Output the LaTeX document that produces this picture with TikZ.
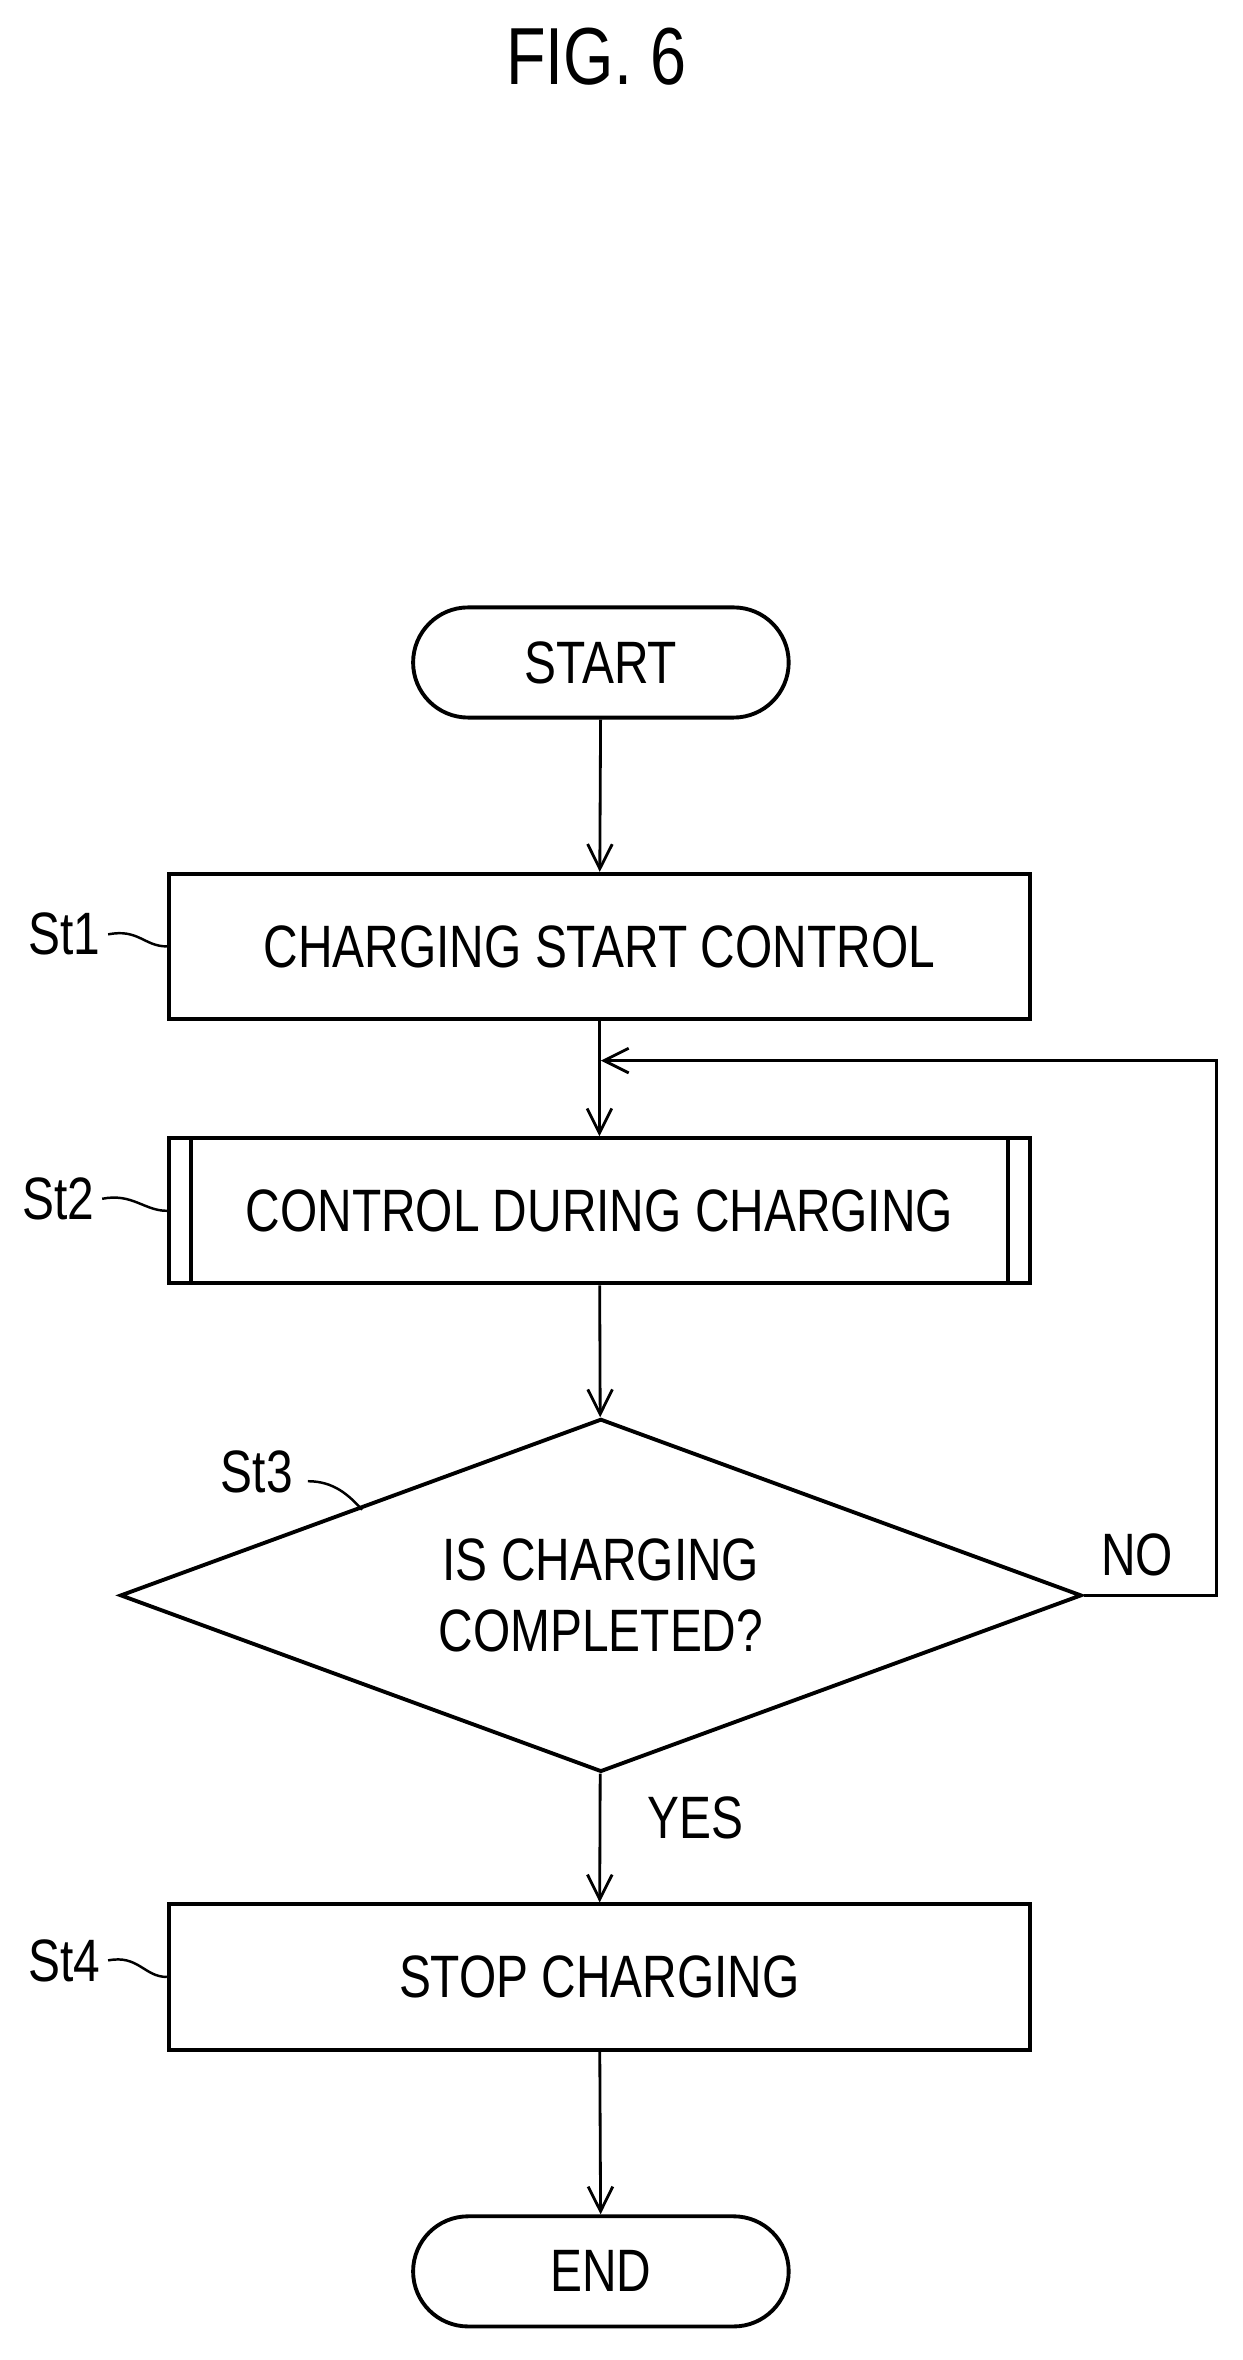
\documentclass[tikz,border=0pt]{standalone}
\usepackage{fontspec}
\setmainfont{Liberation Sans}[FakeStretch=0.8]
\usetikzlibrary{shapes.geometric,arrows.meta}
\begin{document}
\begin{tikzpicture}[x=0.03cm,y=-0.03cm,line width=2.2pt,
  every node/.style={font=\fontsize{34}{40}\selectfont},
  term/.style={draw,minimum width=7.5cm,minimum height=2.2cm},
  stepbox/.style={draw,minimum width=17.2cm,minimum height=2.9cm},
  tag/.style={anchor=east},
  flow/.style={line width=1.6pt,-{Straight Barb[length=14pt,width=14pt]}}]
\useasboundingbox (0,0) rectangle (827,1571);
\node[font=\fontsize{46}{50}\selectfont] (fig) at (397,38) {FIG. 6};
\node[term,rounded corners=1.1cm] (start) at (400,441) {START};
\node[stepbox] (s1) at (399,630) {CHARGING START CONTROL};
\node[stepbox] (s2) at (399,806) {CONTROL DURING CHARGING};
\draw ([xshift=0.48cm]s2.north west) -- ([xshift=0.48cm]s2.south west);
\draw ([xshift=-0.48cm]s2.north east) -- ([xshift=-0.48cm]s2.south east);
\node[draw,diamond,shape aspect=2.72,minimum width=19.2cm,minimum height=7.05cm,inner sep=0,align=center] (s3) at (400,1062) {IS CHARGING\\COMPLETED?};
\node[stepbox] (s4) at (399,1316) {STOP CHARGING};
\node[term,rounded corners=1.1cm] (end) at (400,1512) {END};
% labels
\node[tag] (l1) at (72,622) {St1};
\node[tag] (l2) at (68,798) {St2};
\node (l3) at (171,980) {St3};
\node[tag] (l4) at (72,1305) {St4};
\draw[line width=1.4pt] (l1.east) .. controls +(20,-4) and +(-15,0) .. (s1.west);
\draw[line width=1.4pt] (l2.east) .. controls +(20,-4) and +(-15,0) .. (s2.west);
\draw[line width=1.4pt] (l4.east) .. controls +(20,-4) and +(-15,0) .. (s4.west);
\draw[line width=1.4pt] (205,986) .. controls (222,986) and (232,995) .. (241,1005);
\node (no) at (757,1035) {NO};
\node (yes) at (463,1210) {YES};
% flow
\coordinate (loop) at (400,706);
\draw[flow] (start) -- (s1);
\draw[flow] (s1) -- (s2);
\draw[flow] (s2) -- (s3);
\draw[flow] (s3) -- (s4);
\draw[flow] (s4) -- (end);
\draw[flow] (s3.east) -- (810,1062) -- (810,706) -- (loop);
\end{tikzpicture}
\end{document}
